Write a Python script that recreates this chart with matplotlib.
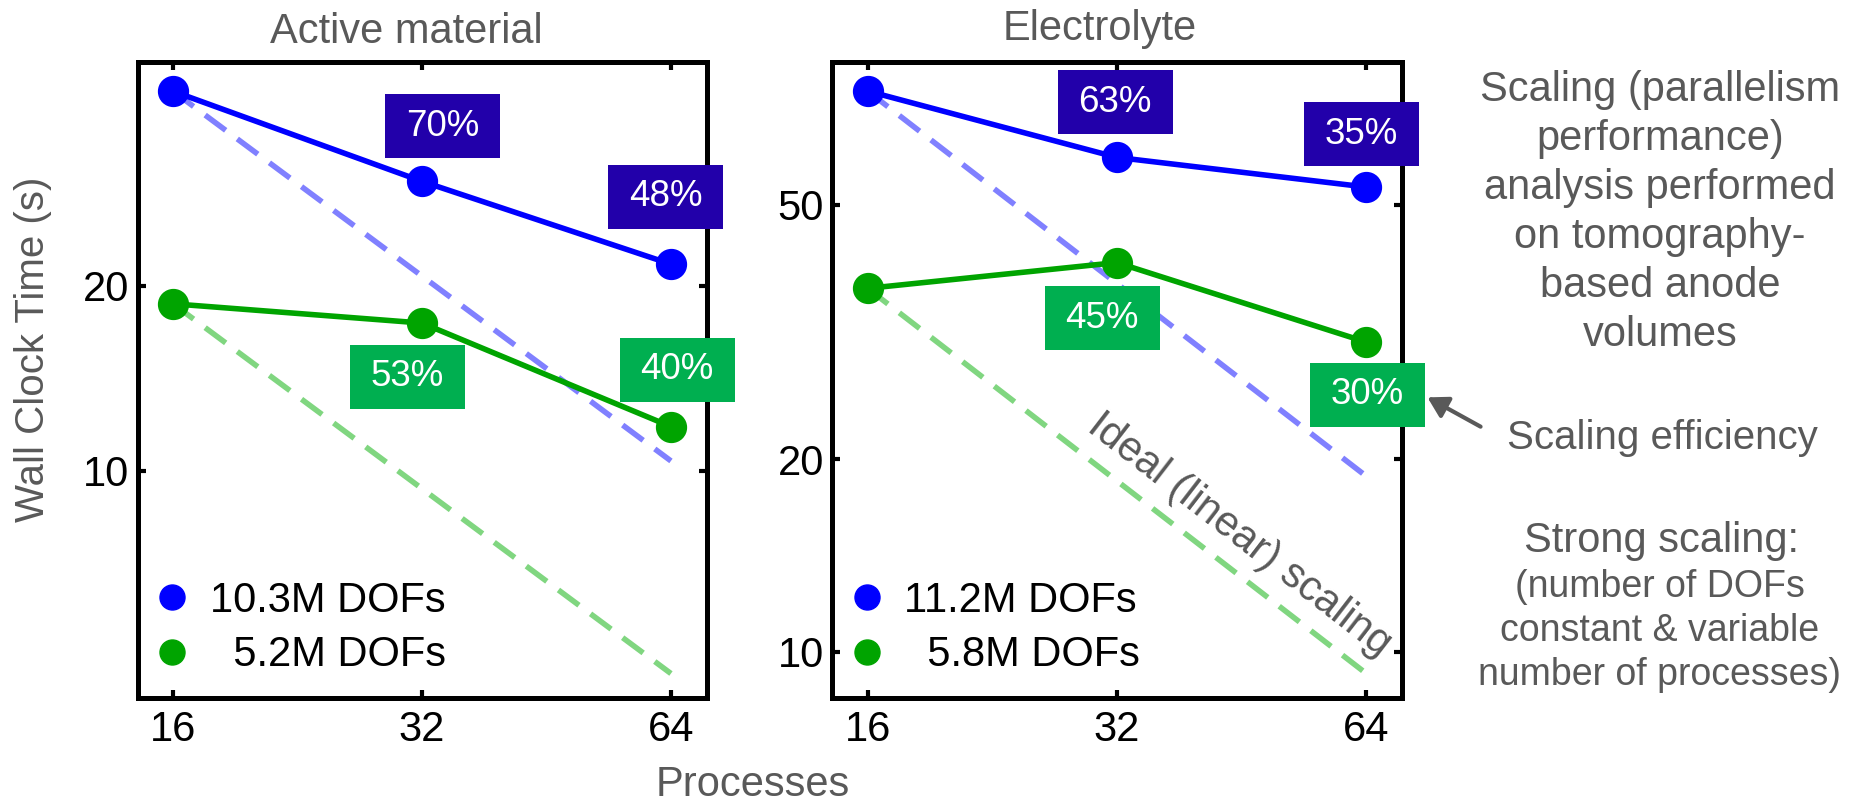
import matplotlib
matplotlib.use("Agg")
import matplotlib.pyplot as plt
from matplotlib.patches import Rectangle, FancyArrowPatch
from matplotlib.lines import Line2D
from matplotlib.ticker import FixedLocator, NullLocator
from math import atan2, degrees

plt.rcParams['font.family'] = ['Liberation Sans', 'DejaVu Sans']

W, H = 1853, 806  # output size in pixels

# --- data -------------------------------------------------------------
procs = [16, 32, 64]

# Active material
am_big = [41.5, 29.6, 21.7]
am_small = [18.7, 17.4, 11.8]
am_eff_big = ["70%", "48%"]
am_eff_small = ["53%", "40%"]
am_labels = ["10.3M DOFs", "  5.2M DOFs"]

# Electrolyte
el_big = [75.3, 59.3, 53.3]
el_small = [37.0, 40.6, 30.5]
el_eff_big = ["63%", "35%"]
el_eff_small = ["45%", "30%"]
el_labels = ["11.2M DOFs", "  5.8M DOFs"]

# --- styles -----------------------------------------------------------
blue = '#0000FF'
green = '#00A400'
blue_ideal = '#8080FF'
green_ideal = '#80D680'
box_blue = '#2200AA'
box_green = '#00AF50'
gray = '#595959'


def fx(x):
    return x / W


def fy(y):
    return 1 - y / H


fig = plt.figure(figsize=(W / 100, H / 100), dpi=100)


def make_axes(x0, x1, ylim, yticks):
    ax = fig.add_axes([fx(x0), fy(697.7), (x1 - x0) / W, 636 / H])
    ax.set_xscale('log', base=2)
    ax.set_yscale('log')
    ax.set_xlim(14.5, 70.7)
    ax.set_ylim(*ylim)
    ax.xaxis.set_major_locator(FixedLocator(procs))
    ax.xaxis.set_minor_locator(NullLocator())
    ax.set_xticklabels([str(p) for p in procs])
    ax.yaxis.set_major_locator(FixedLocator(yticks))
    ax.yaxis.set_minor_locator(NullLocator())
    ax.set_yticklabels([str(t) for t in yticks])
    ax.tick_params(which='both', direction='in', top=True, right=True,
                   length=6, width=3, labelsize=30, colors='black')
    ax.tick_params(axis='x', pad=9)
    ax.tick_params(axis='y', pad=6)
    for sp in ax.spines.values():
        sp.set_linewidth(3.6)
    return ax


def draw_series(ax, big, small, labels):
    ideal_big = [big[0] * procs[0] / p for p in procs]
    ideal_small = [small[0] * procs[0] / p for p in procs]
    ax.plot(procs, ideal_big, color=blue_ideal, lw=4, dashes=(4.6, 2.6), zorder=2)
    ax.plot(procs, ideal_small, color=green_ideal, lw=4, dashes=(4.6, 2.6), zorder=2)
    ax.plot(procs, big, color=blue, lw=4, marker='o', ms=21.5, zorder=3)
    ax.plot(procs, small, color=green, lw=4, marker='o', ms=21.5, zorder=3)
    handles = [Line2D([], [], ls='none', marker='o', ms=18, color=c) for c in (blue, green)]
    ax.legend(handles, labels, loc='lower left', bbox_to_anchor=(0.031, 0.035),
              frameon=False, fontsize=30, handlelength=0.8, handletextpad=0.5,
              labelspacing=0.35, borderpad=0, borderaxespad=0)


def eff_box(text, cx, cy, color):
    bw, bh = 115, 64
    fig.add_artist(Rectangle((fx(cx - bw / 2), fy(cy + bh / 2)), bw / W, bh / H,
                             transform=fig.transFigure, facecolor=color,
                             edgecolor='none', zorder=5))
    fig.text(fx(cx), fy(cy), text, color='white', fontsize=26.5,
             ha='center', va='center', zorder=6)


# --- left panel: active material ----------------------------------------
ax1 = make_axes(137.7, 706.7, (4.27, 46.36), [10, 20])
draw_series(ax1, am_big, am_small, am_labels)
eff_box(am_eff_big[0], 442.5, 126, box_blue)
eff_box(am_eff_big[1], 665.5, 196.5, box_blue)
eff_box(am_eff_small[0], 407.5, 376.5, box_green)
eff_box(am_eff_small[1], 677, 369.5, box_green)

# --- right panel: electrolyte -------------------------------------------
ax2 = make_axes(832.3, 1401.7, (8.47, 83.7), [10, 20, 50])
draw_series(ax2, el_big, el_small, el_labels)
eff_box(el_eff_big[0], 1115.3, 102, box_blue)
eff_box(el_eff_big[1], 1361.5, 134.3, box_blue)
eff_box(el_eff_small[0], 1102, 318.3, box_green)
eff_box(el_eff_small[1], 1367, 394.5, box_green)

# rotated "Ideal" label follows the ideal line on screen
fig.canvas.draw()
p1 = ax2.transData.transform((procs[0], el_small[0]))
p2 = ax2.transData.transform((procs[-1], el_small[0] * procs[0] / procs[-1]))
angle = degrees(atan2(p2[1] - p1[1], p2[0] - p1[0]))
ax2.text(45.0, 15.2, "Ideal (linear) scaling", color=gray, fontsize=30,
         rotation=angle, rotation_mode='anchor', ha='center', va='center', zorder=4)

# titles and axis labels
fig.text(fx(406.5), fy(43), "Active material", color=gray, fontsize=30,
         ha='center', va='baseline')
fig.text(fx(1099.5), fy(40), "Electrolyte", color=gray, fontsize=30,
         ha='center', va='baseline')
fig.text(fx(33), fy(349), "Wall Clock Time (s)", color=gray, fontsize=29,
         rotation=90, ha='center', va='center')
fig.text(fx(752.5), fy(796), "Processes", color=gray, fontsize=30,
         ha='center', va='baseline')

# right hand notes
notes_top = ["Scaling (parallelism", "performance)", "analysis performed",
             "on tomography-", "based anode", "volumes"]
for i, line in enumerate(notes_top):
    fig.text(fx(1660), fy(101 + i * 49), line, color=gray, fontsize=30,
             ha='center', va='baseline')
fig.text(fx(1662), fy(449), "Scaling efficiency", color=gray, fontsize=29,
         ha='center', va='baseline')
fig.text(fx(1661), fy(552), "Strong scaling:", color=gray, fontsize=30,
         ha='center', va='baseline')
notes_bottom = ["(number of DOFs", "constant & variable", "number of processes)"]
for i, line in enumerate(notes_bottom):
    fig.text(fx(1660), fy(597 + i * 44), line, color=gray, fontsize=27,
             ha='center', va='baseline')

fig.add_artist(FancyArrowPatch(
    (fx(1483), fy(428)), (fx(1425), fy(396)), transform=fig.transFigure,
    arrowstyle='-|>,head_length=12,head_width=7', mutation_scale=1,
    color=gray, lw=3, zorder=6))

fig.savefig('out.png', dpi=100)
